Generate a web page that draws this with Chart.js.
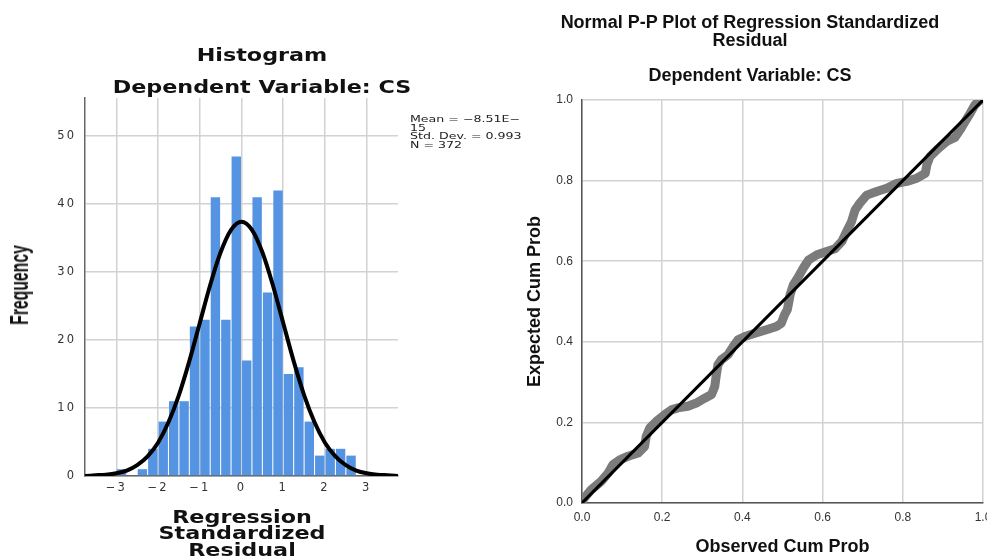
<!DOCTYPE html>
<html>
<head>
<meta charset="utf-8">
<script src="https://cdn.jsdelivr.net/npm/chart.js@4"></script>
<style>
  html, body { margin: 0; padding: 0; background: #fff; }
  body { width: 987px; height: 556px; overflow: hidden; position: relative; }
  canvas { position: absolute; top: 0; }
  #histCanvas { left: 0; }
  #ppCanvas { left: 520px; }
  .t { position: absolute; white-space: nowrap; text-align: center; color: #111; }
  .hist-t { font-family: 'DejaVu Sans', sans-serif; font-weight: bold; font-size: 17px; line-height: 20px; transform: scaleX(1.31); }
  .pp-t { font-family: 'Liberation Sans', Arial, sans-serif; font-weight: bold; font-size: 18px; line-height: 18px; }
  #freqLabel { font-family: 'Liberation Sans', Arial, sans-serif; font-weight: bold; font-size: 25px; line-height: 30px;
               width: 160px; height: 30px; left: -61px; top: 270px; transform: rotate(-90deg) scale(0.63, 1); }
  #stats { font-family: 'DejaVu Sans', sans-serif; font-size: 9px; line-height: 8.7px; text-align: left; color: #222;
           left: 410px; top: 115px; transform: scaleX(1.4); transform-origin: left top; }
</style>
</head>
<body>
<canvas id="histCanvas" width="524" height="556"></canvas>
<canvas id="ppCanvas" width="520" height="556"></canvas>

<div class="t hist-t" style="left:112px; width:300px; top:45px;">Histogram</div>
<div class="t hist-t" style="left:112px; width:300px; top:77px;">Dependent Variable: CS</div>
<div class="t hist-t" style="left:142px; width:200px; top:509px; line-height:16.3px;">Regression<br>Standardized<br>Residual</div>
<div class="t" id="freqLabel">Frequency</div>
<div class="t" id="stats"></div>

<div class="t pp-t" style="left:530px; width:440px; top:13px;">Normal P-P Plot of Regression Standardized<br>Residual</div>
<div class="t pp-t" style="left:530px; width:440px; top:66px;">Dependent Variable: CS</div>

<script>
// --- histogram data (bins are 0.25 wide, listed by left edge) ---
const binWidth = 0.25;
const binStarts = [-3, -2.75, -2.5, -2.25, -2, -1.75, -1.5, -1.25, -1, -0.75, -0.5, -0.25,
                   0, 0.25, 0.5, 0.75, 1, 1.25, 1.5, 1.75, 2, 2.25, 2.5];
const binCounts = [1, 0, 1, 4, 8, 11, 11, 22, 23, 41, 23, 47,
                   17, 41, 27, 42, 15, 16, 8, 3, 4, 4, 3];

// normal curve
const curveX = [-3.75, -3.5, -3.25, -3, -2.75, -2.5, -2.25, -2, -1.75, -1.5, -1.25, -1, -0.75, -0.5, -0.25,
                0, 0.25, 0.5, 0.75, 1, 1.25, 1.5, 1.75, 2, 2.25, 2.5, 2.75, 3, 3.25, 3.5, 3.75];
const curveY = [0.0, 0.1, 0.2, 0.4, 0.8, 1.6, 2.9, 4.9, 7.9, 11.9, 16.9, 22.5, 28.1, 32.9, 36.2,
                37.4, 36.2, 32.9, 28.1, 22.5, 16.9, 11.9, 7.9, 4.9, 2.9, 1.6, 0.8, 0.4, 0.2, 0.1, 0.0];

const histXTicks = [-3, -2, -1, 0, 1, 2, 3];
const histYTicks = [0, 10, 20, 30, 40, 50];

const statsLines = ['Mean = \u22128.51E\u2212', '15', 'Std. Dev. = 0.993', 'N = 372'];

// --- P-P plot data ---
const ppObserved = [0.000, 0.002, 0.023, 0.048, 0.065, 0.077, 0.094, 0.115, 0.140, 0.156, 0.160, 0.169,
                    0.185, 0.206, 0.223, 0.239, 0.264, 0.285, 0.306, 0.323, 0.331, 0.335, 0.339, 0.347,
                    0.364, 0.377, 0.389, 0.406, 0.431, 0.460, 0.485, 0.497, 0.505, 0.512, 0.515, 0.519,
                    0.527, 0.540, 0.552, 0.565, 0.586, 0.610, 0.631, 0.648, 0.660, 0.672, 0.681, 0.693,
                    0.710, 0.735, 0.760, 0.785, 0.810, 0.835, 0.856, 0.860, 0.868, 0.889, 0.909, 0.930,
                    0.943, 0.955, 0.968, 0.980, 0.993];
const ppExpected = [0.000, 0.008, 0.033, 0.054, 0.074, 0.095, 0.107, 0.116, 0.124, 0.140, 0.165, 0.186,
                    0.202, 0.219, 0.231, 0.236, 0.240, 0.248, 0.260, 0.269, 0.289, 0.318, 0.343, 0.355,
                    0.368, 0.388, 0.405, 0.413, 0.421, 0.430, 0.438, 0.446, 0.467, 0.480, 0.495, 0.517,
                    0.541, 0.562, 0.583, 0.603, 0.616, 0.624, 0.631, 0.649, 0.674, 0.698, 0.727, 0.744,
                    0.764, 0.773, 0.781, 0.793, 0.798, 0.806, 0.818, 0.839, 0.860, 0.880, 0.897, 0.907,
                    0.926, 0.946, 0.967, 0.988, 1.000];
const diagX = [0, 1];
const diagY = [0, 1];
const ppTicks = [0, 0.2, 0.4, 0.6, 0.8, 1.0];

document.getElementById('stats').innerHTML = statsLines.join('<br>');

Chart.defaults.animation = false;
Chart.defaults.devicePixelRatio = 1;

const gridColor = '#d2d2d2';

// wider letter spacing for the histogram tick labels
const spacedText = {
  id: 'spacedText',
  beforeDraw(chart) { chart.ctx.letterSpacing = '2px'; },
  afterDraw(chart) { chart.ctx.letterSpacing = '0px'; }
};

// 1. HISTOGRAM
new Chart(document.getElementById('histCanvas'), {
  type: 'bar',
  data: {
    datasets: [
      {
        type: 'line',
        data: curveX.map((x, i) => ({ x: x, y: curveY[i] })),
        borderColor: '#000',
        borderWidth: 4,
        pointRadius: 0,
        cubicInterpolationMode: 'monotone',
        order: 0
      },
      {
        type: 'bar',
        data: binStarts.map((s, i) => ({ x: s + binWidth / 2, y: binCounts[i] })),
        backgroundColor: '#5594e2',
        borderWidth: 0,
        barPercentage: 0.9,
        categoryPercentage: 1,
        order: 1
      }
    ]
  },
  options: {
    responsive: false,
    layout: { padding: { top: 98, right: 126, bottom: 0, left: 0 } },
    plugins: { legend: { display: false }, tooltip: { enabled: false } },
    scales: {
      x: {
        type: 'linear',
        offset: false,
        min: -3.75,
        max: 3.75,
        afterBuildTicks: s => { s.ticks = histXTicks.map(v => ({ value: v })); },
        afterFit: s => { s.height = 80; },
        grid: { color: gridColor, lineWidth: 1.5, drawTicks: false, offset: false },
        border: { display: true, color: '#666', width: 1.5 },
        ticks: {
          padding: 5,
          color: '#333',
          font: { family: 'DejaVu Sans', size: 11.5 },
          callback: v => (v < 0 ? '\u2212' + (-v) : String(v))
        }
      },
      y: {
        min: 0,
        max: 55.6,
        afterBuildTicks: s => { s.ticks = histYTicks.map(v => ({ value: v })); },
        afterFit: s => { s.width = 85; },
        grid: { color: gridColor, lineWidth: 1.5, drawTicks: false },
        border: { display: true, color: '#666', width: 1.5 },
        ticks: {
          padding: 9,
          color: '#333',
          font: { family: 'DejaVu Sans', size: 11.5 }
        }
      }
    }
  },
  plugins: [spacedText]
});

// 2. P-P PLOT
new Chart(document.getElementById('ppCanvas'), {
  type: 'scatter',
  data: {
    datasets: [
      {
        type: 'line',
        data: diagX.map((x, i) => ({ x: x, y: diagY[i] })),
        borderColor: '#000',
        borderWidth: 3,
        pointRadius: 0,
        order: 0
      },
      {
        type: 'line',
        data: ppObserved.map((x, i) => ({ x: x, y: ppExpected[i] })),
        borderColor: '#7b7b7b',
        backgroundColor: '#7b7b7b',
        borderWidth: 9,
        borderCapStyle: 'round',
        borderJoinStyle: 'round',
        pointRadius: 0,
        order: 1
      }
    ]
  },
  options: {
    responsive: false,
    layout: { padding: { top: 100, right: 57, bottom: 0, left: 0 } },
    plugins: { legend: { display: false }, tooltip: { enabled: false } },
    scales: {
      x: {
        type: 'linear',
        min: 0,
        max: 1,
        afterBuildTicks: s => { s.ticks = ppTicks.map(v => ({ value: v })); },
        afterFit: s => { s.height = 53; },
        grid: { color: gridColor, lineWidth: 1.5, drawTicks: false },
        border: { display: true, color: '#555', width: 1.5 },
        ticks: {
          padding: 7,
          color: '#333',
          font: { family: 'Liberation Sans', size: 12 },
          callback: v => v.toFixed(1)
        },
        title: {
          display: true,
          text: 'Observed Cum Prob',
          color: '#111',
          padding: 0,
          font: { family: 'Liberation Sans', size: 18, weight: 'bold', lineHeight: 1 }
        }
      },
      y: {
        min: 0,
        max: 1,
        afterBuildTicks: s => { s.ticks = ppTicks.map(v => ({ value: v })); },
        afterFit: s => { s.width = 62; },
        grid: { color: gridColor, lineWidth: 1.5, drawTicks: false },
        border: { display: true, color: '#555', width: 1.5 },
        ticks: {
          padding: 9,
          color: '#333',
          font: { family: 'Liberation Sans', size: 12 },
          callback: v => v.toFixed(1)
        },
        title: {
          display: true,
          text: 'Expected Cum Prob',
          color: '#111',
          padding: { top: 4, bottom: 0 },
          font: { family: 'Liberation Sans', size: 18, weight: 'bold', lineHeight: 1.2 }
        }
      }
    }
  }
});
</script>
</body>
</html>
